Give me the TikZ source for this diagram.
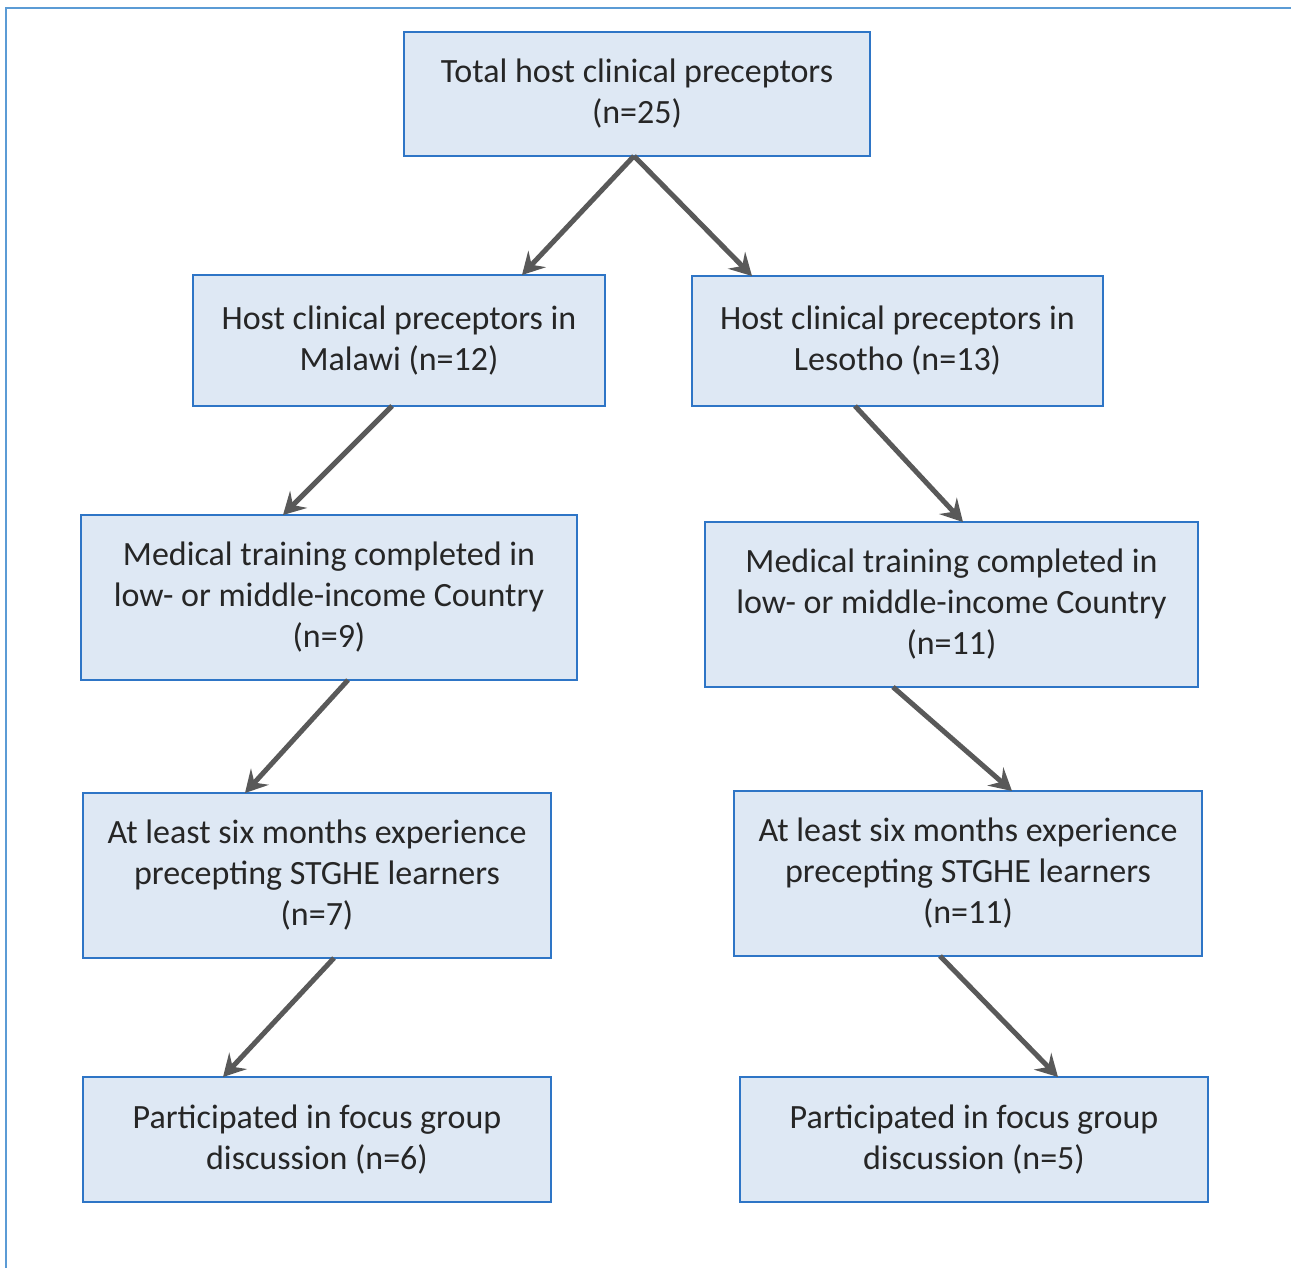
\documentclass[tikz,border=0pt]{standalone}
\usepackage{fontspec}
\setmainfont{Carlito}
\usetikzlibrary{arrows.meta}
\definecolor{boxfill}{HTML}{DEE8F4}
\definecolor{boxline}{HTML}{2E75C6}
\definecolor{frameline}{HTML}{5B9BD5}
\definecolor{arrowgray}{HTML}{595959}
\definecolor{textgray}{HTML}{262626}
\begin{document}
\begin{tikzpicture}[x=1pt,y=-1pt,inner sep=0pt,outer sep=0pt,
flowbox/.style={draw=boxline,fill=boxfill,rectangle,line width=2.5pt,align=center,text=textgray,
  font=\fontsize{34}{41}\selectfont},
flowarrow/.style={draw=arrowgray,line width=5pt,-{Stealth[length=22pt,width=24pt,inset=8pt]}}]
\useasboundingbox (0,0) rectangle (1291,1268);
\draw[frameline,line width=2pt] (1291,8) -- (6,8) -- (6,1268);
\draw (637,94) node[flowbox,minimum width=466pt,minimum height=124pt] (total) {Total host clinical preceptors\\(n=25)};
\draw (399,340.5) node[flowbox,minimum width=412pt,minimum height=131pt] (malawi) {Host clinical preceptors in\\Malawi (n=12)};
\draw (897.5,341) node[flowbox,minimum width=411pt,minimum height=130pt] (lesotho) {Host clinical preceptors in\\Lesotho (n=13)};
\draw (329,597.5) node[flowbox,minimum width=496pt,minimum height=165pt] (medL) {Medical training completed in\\low- or middle-income Country\\(n=9)};
\draw (951.5,604.5) node[flowbox,minimum width=493pt,minimum height=165pt] (medR) {Medical training completed in\\low- or middle-income Country\\(n=11)};
\draw (317,875.5) node[flowbox,minimum width=468pt,minimum height=165pt] (sixL) {At least six months experience\\precepting STGHE learners\\(n=7)};
\draw (968,873.5) node[flowbox,minimum width=468pt,minimum height=165pt] (sixR) {At least six months experience\\precepting STGHE learners\\(n=11)};
\draw (317,1139.5) node[flowbox,minimum width=468pt,minimum height=125pt] (focusL) {Participated in focus group\\discussion (n=6)};
\draw (974,1139.5) node[flowbox,minimum width=468pt,minimum height=125pt] (focusR) {Participated in focus group\\discussion (n=5)};
% connectors
\draw[flowarrow] ([xshift=-3pt]total.south) -- ([xshift=123pt]malawi.north);
\draw[flowarrow] ([xshift=-3pt]total.south) -- ([xshift=-145.5pt]lesotho.north);
\draw[flowarrow] ([xshift=-7pt]malawi.south) -- ([xshift=-46pt]medL.north);
\draw[flowarrow] ([xshift=-42.5pt]lesotho.south) -- ([xshift=11.5pt]medR.north);
\draw[flowarrow] ([xshift=19pt]medL.south) -- ([xshift=-72pt]sixL.north);
\draw[flowarrow] ([xshift=-58.5pt]medR.south) -- ([xshift=44pt]sixR.north);
\draw[flowarrow] ([xshift=17pt]sixL.south) -- ([xshift=-94pt]focusL.north);
\draw[flowarrow] ([xshift=-28pt]sixR.south) -- ([xshift=84pt]focusR.north);
\end{tikzpicture}
\end{document}
